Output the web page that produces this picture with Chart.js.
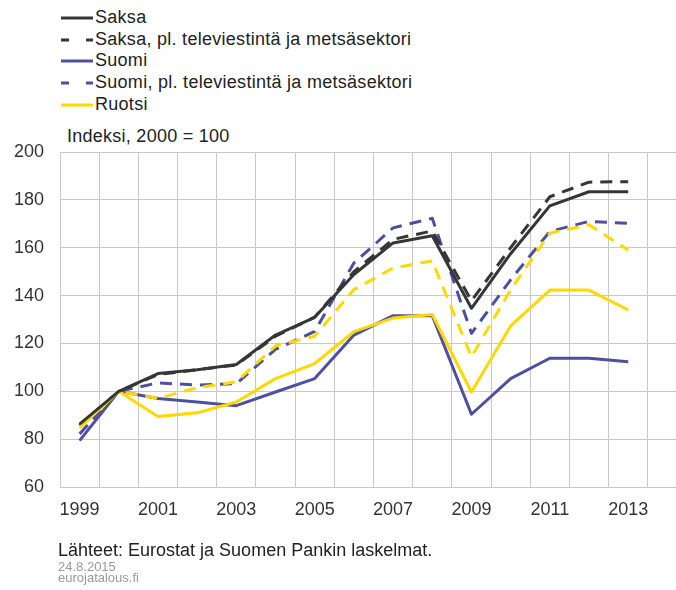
<!DOCTYPE html>
<html lang="fi">
<head>
<meta charset="utf-8">
<title>Saksa, Suomi, Ruotsi – indeksi</title>
<script src="https://cdn.jsdelivr.net/npm/chart.js@4.4.1/dist/chart.umd.min.js"></script>
<style>
  html, body { margin: 0; padding: 0; background: #fff; }
  body {
    width: 676px; height: 590px; position: relative; overflow: hidden;
    font-family: "Liberation Sans", Arial, sans-serif; color: #222;
  }
  #chart { position: absolute; left: 0; top: 0; }
  .legend { position: absolute; left: 61px; top: 7px; }
  .legend-row { display: flex; align-items: center; height: 21.7px; font-size: 18px; line-height: 21.7px; white-space: nowrap; letter-spacing: 0.28px; }
  .legend-row svg { flex: none; margin-right: 2px; }
  .unit { position: absolute; left: 67px; top: 126px; font-size: 18px; line-height: 20px; letter-spacing: 0.26px; }
  .source { position: absolute; left: 58px; top: 540px; font-size: 18px; line-height: 20px; }
  .meta { position: absolute; left: 58px; top: 561px; font-size: 13px; line-height: 11px; color: #9a9a9a; }
</style>
</head>
<body>
<div class="legend" id="legend"></div>
<div class="unit">Indeksi, 2000 = 100</div>
<canvas id="chart" width="676" height="590"></canvas>
<div class="source">Lähteet: Eurostat ja Suomen Pankin laskelmat.</div>
<div class="meta">24.8.2015<br>eurojatalous.fi</div>

<script>
// --- data ---
const YEARS = [1999, 2000, 2001, 2002, 2003, 2004, 2005, 2006, 2007, 2008, 2009, 2010, 2011, 2012, 2013];

const SAKSA     = [86.3, 100, 107.4, 109.0, 111.2, 123.5, 130.9, 148.8, 162.0, 165.0, 134.7, 157.5, 177.5, 183.4, 183.4];
const SAKSA_PL  = [85.8, 100, 107.0, 109.0, 111.0, 123.0, 131.0, 150.0, 163.5, 167.0, 137.8, 160.0, 181.3, 187.4, 187.6];
const SUOMI     = [79.4, 100,  97.0,  95.5,  94.0,  99.7, 105.3, 123.5, 131.6, 131.6,  90.4, 105.3, 113.8, 113.8, 112.3];
const SUOMI_PL  = [82.2, 100, 103.5, 102.6, 103.2, 117.5, 125.0, 153.6, 168.3, 172.3, 124.2, 146.6, 166.8, 171.0, 170.2];
const RUOTSI    = [84.8, 100,  89.5,  91.0,  95.5, 105.3, 111.6, 124.9, 130.6, 132.1,  99.7, 127.3, 142.3, 142.3, 134.0];
const RUOTSI_PL = [85.0, 100,  97.0, 101.5, 104.0, 119.0, 123.0, 142.5, 151.5, 154.5, 114.4, 142.4, 166.1, 169.6, 159.0];

const Y_TICKS = [60, 80, 100, 120, 140, 160, 180, 200];
const X_LABEL_YEARS = [1999, 2001, 2003, 2005, 2007, 2009, 2011, 2013];

const BLACK = '#363636';
const BLUE = '#4d50a2';
const YELLOW = '#ffd800';
const GRID = '#c8c8c8';
const DASH = [12, 8];

const toPoints = vals => YEARS.map((y, i) => ({ x: y, y: vals[i] }));

// order: lower number is drawn on top
const datasets = [
  { label: 'Saksa', data: toPoints(SAKSA), borderColor: BLACK, borderDash: [], order: 0, legend: true },
  { label: 'Saksa, pl. televiestintä ja metsäsektori', data: toPoints(SAKSA_PL), borderColor: BLACK, borderDash: DASH, order: 3, legend: true },
  { label: 'Suomi', data: toPoints(SUOMI), borderColor: BLUE, borderDash: [], order: 5, legend: true },
  { label: 'Suomi, pl. televiestintä ja metsäsektori', data: toPoints(SUOMI_PL), borderColor: BLUE, borderDash: DASH, order: 4, legend: true },
  { label: 'Ruotsi', data: toPoints(RUOTSI), borderColor: YELLOW, borderDash: [], order: 1, legend: true },
  { label: 'Ruotsi, pl. televiestintä ja metsäsektori', data: toPoints(RUOTSI_PL), borderColor: YELLOW, borderDash: DASH, order: 2, legend: false }
].map(d => Object.assign(d, {
  borderWidth: 3,
  pointRadius: 0,
  tension: 0,
  fill: false,
  borderJoinStyle: 'round'
}));

// html legend (the yellow dashed series has no entry in the original)
const legendEl = document.getElementById('legend');
datasets.filter(d => d.legend).forEach(d => {
  const row = document.createElement('div');
  row.className = 'legend-row';
  const dash = d.borderDash.length ? ' stroke-dasharray="8 17"' : '';
  row.innerHTML = `<svg width="32" height="8"><line x1="0" y1="4" x2="32" y2="4" stroke="${d.borderColor}" stroke-width="3"${dash}/></svg><span>${d.label}</span>`;
  legendEl.appendChild(row);
});

const isHalf = v => Math.abs(Math.abs(v % 1) - 0.5) < 1e-6;

new Chart(document.getElementById('chart'), {
  type: 'line',
  data: { datasets },
  options: {
    responsive: false,
    animation: false,
    layout: { padding: { top: 152, left: 0, right: 0, bottom: 73 } },
    plugins: { legend: { display: false }, tooltip: { enabled: false } },
    scales: {
      x: {
        type: 'linear',
        min: 1998.5,
        max: 2014.22,
        border: { display: false },
        grid: {
          drawTicks: false,
          color: c => (c.tick && isHalf(c.tick.value)) ? GRID : 'rgba(0,0,0,0)',
          lineWidth: 1
        },
        ticks: {
          stepSize: 0.5,
          autoSkip: false,
          maxRotation: 0,
          padding: 12,
          color: '#333',
          font: { family: '"Liberation Sans", Arial, sans-serif', size: 18 },
          callback: v => {
            const r = Math.round(v);
            return (Math.abs(v - r) < 1e-6 && X_LABEL_YEARS.includes(r)) ? String(r) : '';
          }
        },
        // plot runs right to the edge of the picture, as in the original crop
        afterFit: s => { s.height = 30; s.paddingLeft = 0; s.paddingRight = 0; }
      },
      y: {
        min: Y_TICKS[0],
        max: Y_TICKS[Y_TICKS.length - 1],
        border: { display: false },
        grid: { drawTicks: false, color: GRID, lineWidth: 1 },
        ticks: {
          stepSize: 20,
          padding: 16,
          color: '#333',
          font: { family: '"Liberation Sans", Arial, sans-serif', size: 18 }
        },
        afterBuildTicks: s => { s.ticks = Y_TICKS.map(v => ({ value: v })); },
        afterFit: s => { s.width = 60; }
      }
    }
  }
});
</script>
</body>
</html>
